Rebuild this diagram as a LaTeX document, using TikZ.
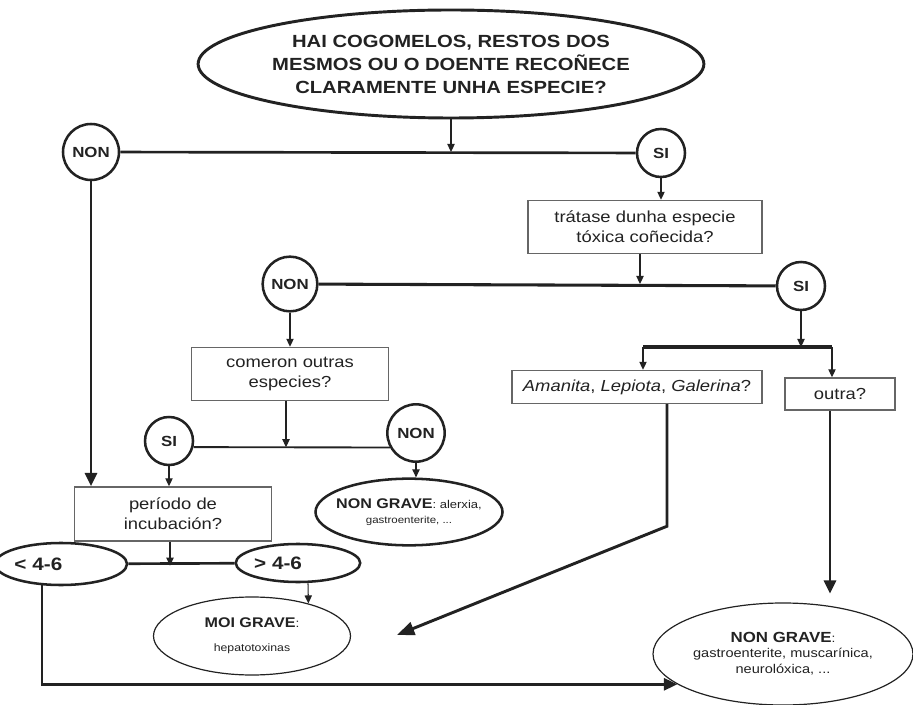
\documentclass[tikz,border=0pt]{standalone}
\usepackage{fontspec}
\setmainfont{Liberation Sans}[FakeStretch=1.15]
\usetikzlibrary{shapes.geometric,arrows.meta}
\definecolor{ink}{HTML}{222222}
\definecolor{txt}{HTML}{222222}
\definecolor{boxc}{HTML}{666666}
\begin{document}
\begin{tikzpicture}[x=0.75pt,y=-0.75pt]
\tikzset{
  circ/.style={circle, draw=ink, line width=1.9pt, inner sep=0pt, text=txt,
    font=\fontsize{11}{13}\selectfont\bfseries},
  qbox/.style={rectangle, draw=boxc, line width=1.1pt, inner sep=0pt, align=center,
    text=txt, font=\fontsize{12}{15}\selectfont},
  oval/.style={ellipse, draw=ink, inner sep=0pt, align=center, text=txt},
  hl/.style={draw=ink, line width=#1},
  arr/.style={draw=ink, line width=0.8pt, -{Triangle[length=6pt,width=5.5pt]}},
  bigarr/.style={draw=ink, line width=2.2pt, -{Triangle[length=10pt,width=9pt]}},
}
\useasboundingbox (0,0) rectangle (913,705);

% top question
\node[oval, line width=2.2pt, minimum width=312.75pt, minimum height=81pt,
  font=\fontsize{13.2}{17.25}\selectfont\bfseries] (q0) at (451,64)
  {HAI COGOMELOS, RESTOS DOS\\MESMOS OU O DOENTE RECOÑECE\\CLARAMENTE UNHA ESPECIE?};

% circles
\node[circ, minimum size=42pt] (non1) at (91,152) {NON};
\node[circ, minimum size=36pt] (si1) at (661,153) {SI};
\node[circ, minimum size=41pt] (non2) at (290,284) {NON};
\node[circ, minimum size=36pt] (si2) at (801,286) {SI};
\node[circ, minimum size=36pt] (si3) at (169,441) {SI};
\node[circ, minimum size=43pt] (non3) at (416,433) {NON};

% boxes
\node[qbox, minimum width=175.5pt, minimum height=39.75pt] (b1) at (645,227)
  {trátase dunha especie\\tóxica coñecida?};
\node[qbox, minimum width=147.75pt, minimum height=39.75pt] (b2) at (290,374)
  {comeron outras\\especies?};
\node[qbox, minimum width=147.75pt, minimum height=40.5pt] (b3) at (173,514)
  {período de\\incubación?};
\node[qbox, minimum width=187.5pt, minimum height=24.75pt] (b4) at (637,387)
  {\itshape Amanita\upshape, \itshape Lepiota\upshape, \itshape Galerina\upshape?};
\node[qbox, minimum width=82.5pt, minimum height=24pt] (b5) at (840,394) {outra?};

% ellipses
\node[oval, line width=1.9pt, inner xsep=-5pt, minimum width=136.5pt, minimum height=50pt] (ng1) at (409,512)
  {{\fontsize{10.5}{12}\selectfont\bfseries NON GRAVE}{\fontsize{8.5}{12}\selectfont: alerxia,}\\[-1pt]
   {\fontsize{7.5}{9}\selectfont gastroenterite, ...}};
\node[oval, line width=1.9pt, minimum width=84pt, minimum height=31.5pt, text width=70pt, align=left,
  font=\fontsize{13.5}{15}\selectfont\bfseries] (lt) at (61,564) {< 4-6};
\node[oval, line width=1.9pt, minimum width=84.75pt, minimum height=28.5pt, text width=66pt, align=left,
  font=\fontsize{13.5}{15}\selectfont\bfseries] (gt) at (298,563) {> 4-6};
\node[oval, line width=0.9pt, minimum width=147.75pt, minimum height=58.5pt] (moi) at (252,636)
  {{\fontsize{10.5}{12}\selectfont\bfseries MOI GRAVE}{\fontsize{9}{12}\selectfont:}\\[6pt]
   {\fontsize{8}{10}\selectfont hepatotoxinas}};
\node[oval, line width=0.9pt, minimum width=195pt, minimum height=76.5pt] (ng2) at (783,654)
  {{\fontsize{11}{13}\selectfont\bfseries NON GRAVE}{\fontsize{9}{13}\selectfont:}\\[-1pt]
   {\fontsize{9.5}{14}\selectfont gastroenterite, muscarínica,}\\
   {\fontsize{9.5}{14}\selectfont neurolóxica, ...}};

% free coordinates
\coordinate (bl) at (643,347);
\coordinate (br) at (832,347);
\coordinate (tipA) at (397,635);

% connectors: level 1
\draw[arr] (q0.south) -- (q0.south |- non1);
\draw[hl=2pt] (non1) -- (si1);
\draw[arr] (si1) -- (si1 |- b1.north);
\draw[bigarr] (non1) -- (non1 |- b3.north);

% level 2
\draw[arr] ([xshift=-3.75pt]b1.south) -- ([xshift=-3.75pt]b1.south |- non2);
\draw[hl=2.3pt] (non2) -- (si2);
\draw[arr] (non2) -- (non2 |- b2.north);

% level 3
\draw[arr] ([xshift=-3pt]b2.south) -- ++(0,46);
\draw[hl=1.4pt] (si3.-14) -- (non3.209);
\draw[arr] (si3) -- (si3 |- b3.north);
\draw[arr] (non3) -- (non3 |- ng1.north);

% incubation
\draw[arr] ([xshift=-2.25pt]b3.south) -- ++(0,24);
\draw[hl=2pt] (lt) -- (gt);
\draw[arr] ([xshift=7.5pt]gt.south) -- (moi.30);
\draw[bigarr, line width=1.9pt] (lt.-132) |- (ng2.196);

% right branch
\draw[arr] (si2) -- (si2 |- bl);
\draw[hl=2.3pt] (bl) -- (br);
\draw[arr] (bl) -- (bl |- b4.north);
\draw[arr] (br) -- (br |- b5.north);
\draw[bigarr, -{Triangle[length=13pt,width=10pt]}] ([xshift=22.5pt]b4.south) -- ++(0,122) -- (tipA);
\draw[bigarr] ([xshift=-7.5pt]b5.south) -- ++(0,183);
\end{tikzpicture}
\end{document}
